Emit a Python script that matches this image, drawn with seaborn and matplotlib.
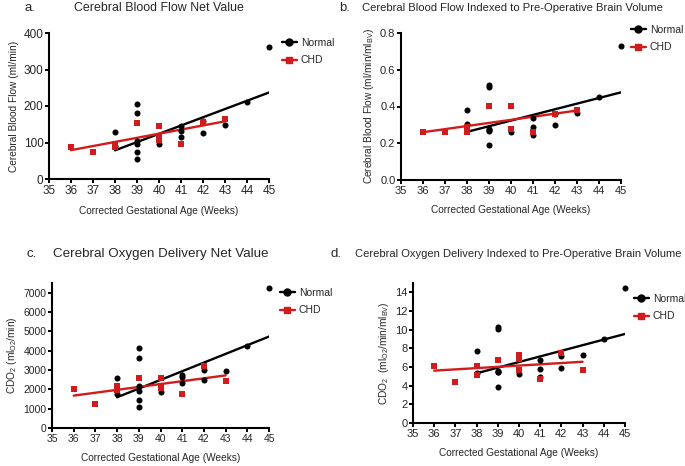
import matplotlib
matplotlib.use("Agg")
import matplotlib.pyplot as plt
import seaborn as sns
from matplotlib.lines import Line2D

# gestational age (weeks) for each subject
normal_ga = [38, 38, 39, 39, 39, 39, 39, 39, 40, 41, 41, 41, 42, 42, 43, 44, 45]
chd_ga = [36, 37, 38, 38, 39, 40, 40, 40, 41, 42, 43]

# x range of each fitted line
normal_fit_ga = [38, 45]
chd_fit_ga = [36, 43]

# a. cerebral blood flow (ml/min)
normal_cbf = [130, 90, 206, 180, 103, 97, 73, 55, 96, 144, 132, 116, 126, 158, 147, 211, 362]
chd_cbf = [87, 74, 96, 89, 154, 144, 117, 108, 96, 156, 164]
normal_cbf_fit = [78.5, 237]
chd_cbf_fit = [79, 158]

# b. cbf indexed to brain volume
normal_cbf_idx = [0.383, 0.306, 0.516, 0.506, 0.277, 0.266, 0.272, 0.193, 0.262, 0.336, 0.286, 0.244, 0.297, 0.36, 0.363, 0.45, 0.728]
chd_cbf_idx = [0.26, 0.259, 0.259, 0.29, 0.404, 0.404, 0.28, 0.275, 0.262, 0.36, 0.38]
normal_cbf_idx_fit = [0.262, 0.477]
chd_cbf_idx_fit = [0.26, 0.378]

# c. oxygen delivery (ml O2/min)
normal_cdo2 = [2600, 1750, 4120, 3595, 2150, 1920, 1450, 1100, 1885, 2760, 2620, 2320, 3020, 2500, 2930, 4220, 7240]
chd_cdo2 = [2025, 1240, 2150, 1970, 2565, 2565, 2150, 2050, 1745, 3190, 2440]
normal_cdo2_fit = [1590, 4730]
chd_cdo2_fit = [1675, 2720]

# d. oxygen delivery indexed to brain volume
normal_cdo2_idx = [7.68, 5.4, 10.3, 10.07, 5.6, 5.44, 5.5, 3.86, 5.26, 6.74, 5.75, 4.88, 7.16, 5.93, 7.26, 8.95, 14.5]
chd_cdo2_idx = [6.1, 4.39, 6.1, 5.16, 6.7, 7.26, 6.91, 5.68, 4.74, 7.5, 5.68]
normal_cdo2_idx_fit = [5.33, 9.54]
chd_cdo2_idx_fit = [5.61, 6.56]

RED = "#d01c1c"

sns.set_theme(style="ticks")
plt.rcParams["font.family"] = ["Liberation Sans", "DejaVu Sans"]
plt.rcParams["mathtext.default"] = "regular"

fig = plt.figure(figsize=(6.85, 4.66), dpi=100)
W, H = 685, 466


def px_axes(left, right, top, bottom):
    return fig.add_axes([left / W, 1 - bottom / H, (right - left) / W, (bottom - top) / H])


panels = [
    dict(box=(49, 269, 33, 179), normal=normal_cbf, chd=chd_cbf, nfit=normal_cbf_fit, cfit=chd_cbf_fit,
         ylim=(0, 400), yticks=[0, 100, 200, 300, 400],
         ylabel="Cerebral Blood Flow (ml/min)", letter="a.", letter_xy=(30, 8),
         title="Cerebral Blood Flow Net Value", title_xy=(159, 8), tsize=8.9, ticksize=8.5,
         leg_xy=(282, 38), fmt=None),
    dict(box=(401, 621, 33, 180), normal=normal_cbf_idx, chd=chd_cbf_idx, nfit=normal_cbf_idx_fit,
         cfit=chd_cbf_idx_fit, ylim=(0, 0.8), yticks=[0, 0.2, 0.4, 0.6, 0.8],
         ylabel="Cerebral Blood Flow (ml/min/ml$_{BV}$)", letter="b.", letter_xy=(345, 8),
         title="Cerebral Blood Flow Indexed to Pre-Operative Brain Volume", title_xy=(512, 8), tsize=8.1,
         ticksize=8, leg_xy=(631, 25), fmt="{:.1f}"),
    dict(box=(52, 269, 283, 428), normal=normal_cdo2, chd=chd_cdo2, nfit=normal_cdo2_fit, cfit=chd_cdo2_fit,
         ylim=(0, 7500), yticks=[0, 1000, 2000, 3000, 4000, 5000, 6000, 7000],
         ylabel="CDO$_2$ (ml$_{O2}$/min)", letter="c.", letter_xy=(32, 254),
         title="Cerebral Oxygen Delivery Net Value", title_xy=(161, 254), tsize=9.6, ticksize=7.5,
         leg_xy=(280, 288), fmt=None),
    dict(box=(413, 625, 283, 423), normal=normal_cdo2_idx, chd=chd_cdo2_idx, nfit=normal_cdo2_idx_fit,
         cfit=chd_cdo2_idx_fit, ylim=(0, 15), yticks=[0, 2, 4, 6, 8, 10, 12, 14],
         ylabel="CDO$_2$  (ml$_{O2}$/min/ml$_{BV}$)", letter="d.", letter_xy=(336, 254),
         title="Cerebral Oxygen Delivery Indexed to Pre-Operative Brain Volume", title_xy=(518, 254), tsize=8.0,
         ticksize=8, leg_xy=(634, 294), fmt=None),
]

for p in panels:
    ax = px_axes(*p["box"])
    # regression lines
    sns.lineplot(x=normal_fit_ga, y=p["nfit"], ax=ax, color="black", lw=1.7, zorder=2)
    sns.lineplot(x=chd_fit_ga, y=p["cfit"], ax=ax, color=RED, lw=1.7, zorder=2)
    # subjects
    sns.scatterplot(x=normal_ga, y=p["normal"], ax=ax, marker="o", color="black", s=19,
                    linewidth=0, zorder=3, clip_on=False)
    sns.scatterplot(x=chd_ga, y=p["chd"], ax=ax, marker="s", color=RED, s=17,
                    linewidth=0, zorder=4, clip_on=False)

    ax.set_xlim(35, 45)
    ax.set_ylim(*p["ylim"])
    ax.set_xticks(range(35, 46))
    ax.set_yticks(p["yticks"])
    if p["fmt"]:
        ax.set_yticklabels([p["fmt"].format(v) for v in p["yticks"]])
    ax.tick_params(labelsize=p["ticksize"], length=3, width=1.4, pad=1, color="black")
    for s in ("left", "bottom"):
        ax.spines[s].set_linewidth(1.5)
        ax.spines[s].set_color("black")
    sns.despine(ax=ax)
    ax.set_xlabel("Corrected Gestational Age (Weeks)", fontsize=7.3, labelpad=7)
    ax.set_ylabel(p["ylabel"], fontsize=7.3, labelpad=3)

    fig.text(p["letter_xy"][0] / W, 1 - p["letter_xy"][1] / H, p["letter"], fontsize=9.5, ha="center", va="center")
    fig.text(p["title_xy"][0] / W, 1 - p["title_xy"][1] / H, p["title"], fontsize=p["tsize"], ha="center", va="center")

    handles = [Line2D([], [], color="black", marker="o", markersize=5, lw=1.7),
               Line2D([], [], color=RED, marker="s", markersize=5, lw=1.7)]
    fig.legend(handles, ["Normal", "CHD"], loc="upper left",
               bbox_to_anchor=(p["leg_xy"][0] / W, 1 - p["leg_xy"][1] / H),
               frameon=False, fontsize=7.5, handlelength=1.4, handletextpad=0.4,
               labelspacing=0.7, borderaxespad=0, borderpad=0)

fig.savefig("out.png", dpi=100)
